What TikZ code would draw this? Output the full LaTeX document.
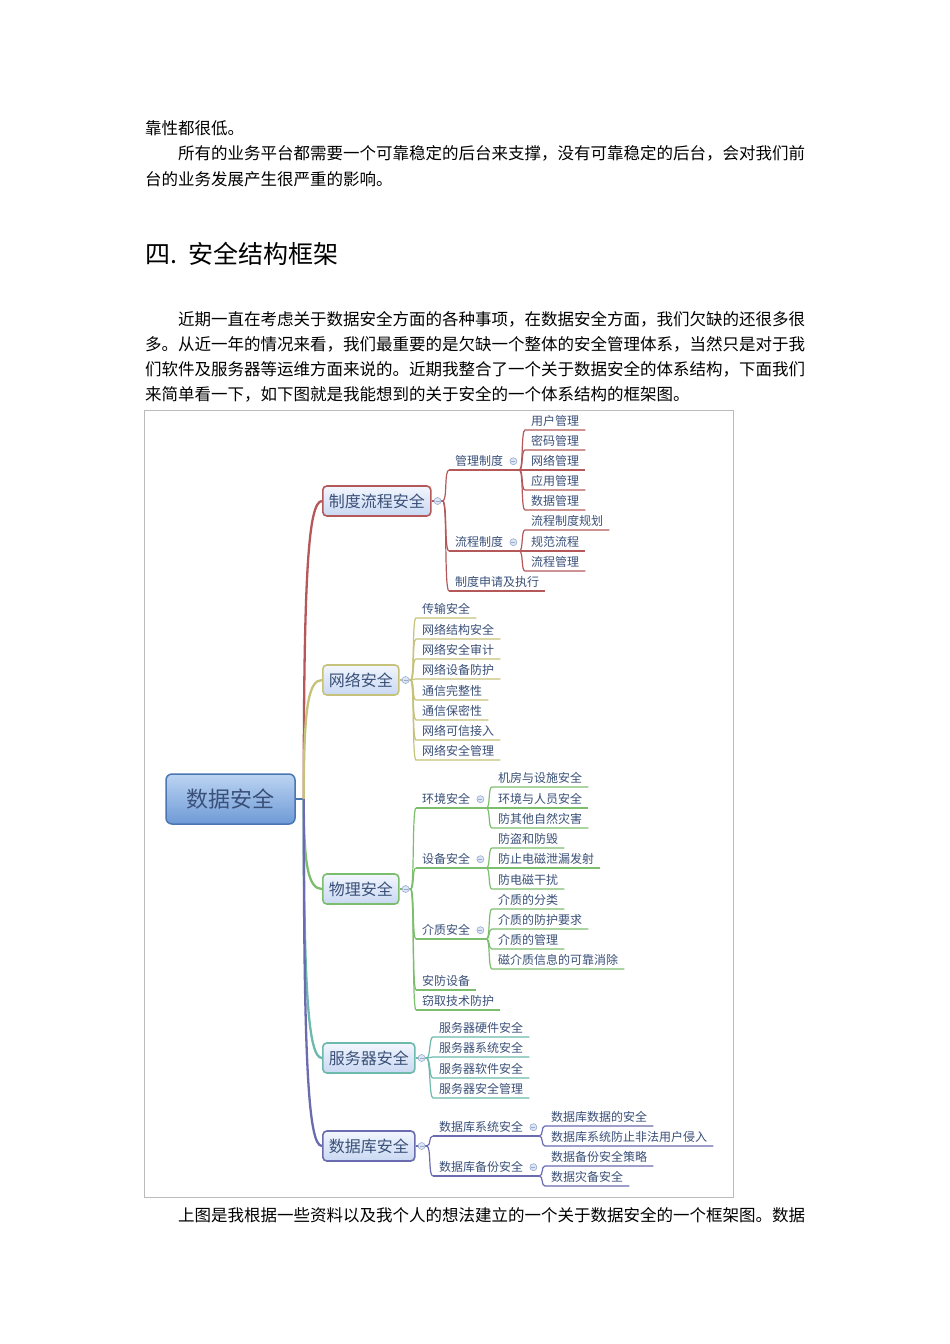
\documentclass[tikz,border=0pt]{standalone}
\usepackage{fontspec}
\setmainfont{Noto Sans CJK SC}
\usetikzlibrary{calc}

\definecolor{brRed}{HTML}{B5585A}
\definecolor{brOlive}{HTML}{C6C27A}
\definecolor{brGreen}{HTML}{7DBE6E}
\definecolor{brTeal}{HTML}{6DB9AC}
\definecolor{brPurple}{HTML}{6B6BB0}
\definecolor{txtBlue}{HTML}{3A5078}
\definecolor{boxTop}{HTML}{F2F6FE}
\definecolor{boxBot}{HTML}{C9D8F2}
\definecolor{rootTop}{HTML}{BCD4F2}
\definecolor{rootBot}{HTML}{6E9AD6}
\definecolor{rootLine}{HTML}{4A76B4}
\definecolor{mkLine}{HTML}{9AAACC}
\definecolor{mkFill}{HTML}{DCE6F6}
\definecolor{frameGray}{HTML}{BBBBBB}

\tikzset{
  bodytext/.style={anchor=west, inner sep=0pt, font=\fontsize{16.5}{20}\selectfont},
  leaf/.style={anchor=south west, inner xsep=6pt, inner ysep=3pt, text=txtBlue, font=\fontsize{12}{14}\selectfont},
  topic/.style={anchor=west, rounded corners=4pt, draw=#1, line width=1.6pt, top color=boxTop, bottom color=boxBot,
    text=txtBlue, inner xsep=6pt, minimum height=30pt, font=\fontsize{16}{18}\selectfont},
  rootbox/.style={rounded corners=6pt, draw=rootLine, line width=1.5pt, top color=rootTop, bottom color=rootBot,
    text=txtBlue, minimum width=129pt, minimum height=50pt, font=\fontsize{22}{24}\selectfont},
  marker/.style={circle, draw=mkLine, fill=mkFill, line width=0.6pt, inner sep=0pt, minimum size=7pt,
    path picture={\draw[mkLine, line width=0.6pt] ([xshift=-2pt]path picture bounding box.center) -- ([xshift=2pt]path picture bounding box.center);}},
  lk/.style={draw=#1, line width=1.2pt},
  trunk/.style={draw=#1, line width=2.3pt},
}

\begin{document}
\begin{tikzpicture}[x=1pt, y=-1pt]
  \useasboundingbox (0,0) rectangle (950,1344);
  \fill[white] (0,0) rectangle (950,1344);

  % text above the figure
  \node[bodytext] (t1) at (145,128) {靠性都很低。};
  \node[bodytext] (t2) at (178,153) {所有的业务平台都需要一个可靠稳定的后台来支撑，没有可靠稳定的后台，会对我们前};
  \node[bodytext] (t3) at (145,179) {台的业务发展产生很严重的影响。};
  \node[anchor=west, inner sep=0pt, font=\fontsize{25}{28}\selectfont] (hd) at (145,254) {四.\hspace{11pt}安全结构框架};
  \node[bodytext] (p1) at (178,319) {近期一直在考虑关于数据安全方面的各种事项，在数据安全方面，我们欠缺的还很多很};
  \node[bodytext] (p2) at (145,344) {多。从近一年的情况来看，我们最重要的是欠缺一个整体的安全管理体系，当然只是对于我};
  \node[bodytext] (p3) at (145,369) {们软件及服务器等运维方面来说的。近期我整合了一个关于数据安全的体系结构，下面我们};
  \node[bodytext] (p4) at (145,394) {来简单看一下，如下图就是我能想到的关于安全的一个体系结构的框架图。};
  \node[bodytext] (p5) at (178,1215) {上图是我根据一些资料以及我个人的想法建立的一个关于数据安全的一个框架图。数据};

  % figure frame
  \draw[frameGray, line width=0.6pt] (144,410) rectangle (733,1197);

  % root and main topics
  \node[rootbox] (rt) at (230.5,799) {数据安全};
  \node[topic=brRed] (zd) at (322,501) {制度流程安全};
  \node[topic=brOlive] (wl) at (322,680) {网络安全};
  \node[topic=brGreen] (wu) at (322,889) {物理安全};
  \node[topic=brTeal] (fw) at (322,1058) {服务器安全};
  \node[topic=brPurple] (sj) at (322,1146) {数据库安全};

  \coordinate (rt-o) at ([xshift=8pt]rt.east);
  \draw[trunk=rootLine] (rt.east) -- (rt-o);
  \draw[trunk=brRed] (rt-o) .. controls +(0,-220) and +(-14,0) .. (zd.west);
  \draw[trunk=brOlive] (rt-o) .. controls +(0,-90) and +(-14,0) .. (wl.west);
  \draw[trunk=brGreen] (rt-o) .. controls +(0,65) and +(-14,0) .. (wu.west);
  \draw[trunk=brTeal] (rt-o) .. controls +(0,190) and +(-14,0) .. (fw.west);
  \draw[trunk=brPurple] (rt-o) .. controls +(0,260) and +(-14,0) .. (sj.west);

  \foreach \b in {zd,wl,wu,fw,sj}
    \coordinate (\b-o) at ([xshift=11pt]\b.east);

  % 制度流程安全
  \node[leaf] (gl) at (449,470) {管理制度};
  \node[leaf] (lc) at (449,551) {流程制度};
  \node[leaf] (sq) at (449,591) {制度申请及执行};
  \foreach \c in {gl,lc,sq}
    \draw[lk=brRed] (zd-o) .. controls +(5,0) and +(-5,0) .. (\c.south west);
  \draw[lk=brRed] (zd.east) -- (zd-o);
  \draw[lk=brRed] (sq.south west) -- (sq.south east);
  \coordinate (gl-o) at ($(gl.south east)+(10,0)$);
  \coordinate (lc-o) at ($(lc.south east)+(10,0)$);
  \draw[lk=brRed] (gl.south west) -- (gl-o);
  \draw[lk=brRed] (lc.south west) -- (lc-o);
  \foreach \t/\y [count=\i] in {用户管理/430,密码管理/450,网络管理/470,应用管理/490,数据管理/510}{
    \node[leaf] (gl\i) at (525,\y) {\t};
    \draw[lk=brRed] (gl-o) .. controls +(4,0) and +(-4,0) .. (gl\i.south west) -- (gl\i.south east);
  }
  \foreach \t/\y [count=\i] in {流程制度规划/530,规范流程/551,流程管理/571}{
    \node[leaf] (lc\i) at (525,\y) {\t};
    \draw[lk=brRed] (lc-o) .. controls +(4,0) and +(-4,0) .. (lc\i.south west) -- (lc\i.south east);
  }

  % 网络安全
  \draw[lk=brOlive] (wl.east) -- (wl-o);
  \foreach \t/\y [count=\i] in {传输安全/618,网络结构安全/639,网络安全审计/659,网络设备防护/679,
      通信完整性/700,通信保密性/720,网络可信接入/740,网络安全管理/760}{
    \node[leaf] (wl\i) at (416,\y) {\t};
    \draw[lk=brOlive] (wl-o) .. controls +(4,0) and +(-4,0) .. (wl\i.south west) -- (wl\i.south east);
  }

  % 物理安全
  \draw[lk=brGreen] (wu.east) -- (wu-o);
  \node[leaf] (hj) at (416,808) {环境安全};
  \node[leaf] (sb) at (416,868) {设备安全};
  \node[leaf] (jz) at (416,939) {介质安全};
  \node[leaf] (af) at (416,990) {安防设备};
  \node[leaf] (qq) at (416,1010) {窃取技术防护};
  \foreach \c in {hj,sb,jz,af,qq}
    \draw[lk=brGreen] (wu-o) .. controls +(4,0) and +(-4,0) .. (\c.south west);
  \draw[lk=brGreen] (af.south west) -- (af.south east);
  \draw[lk=brGreen] (qq.south west) -- (qq.south east);
  \foreach \c in {hj,sb,jz}{
    \coordinate (\c-o) at ($(\c.south east)+(10,0)$);
    \draw[lk=brGreen] (\c.south west) -- (\c-o);
  }
  \foreach \t/\y [count=\i] in {机房与设施安全/787,环境与人员安全/808,防其他自然灾害/828}{
    \node[leaf] (hj\i) at (492,\y) {\t};
    \draw[lk=brGreen] (hj-o) .. controls +(4,0) and +(-4,0) .. (hj\i.south west) -- (hj\i.south east);
  }
  \foreach \t/\y [count=\i] in {防盗和防毁/848,防止电磁泄漏发射/868,防电磁干扰/889}{
    \node[leaf] (sb\i) at (492,\y) {\t};
    \draw[lk=brGreen] (sb-o) .. controls +(4,0) and +(-4,0) .. (sb\i.south west) -- (sb\i.south east);
  }
  \foreach \t/\y [count=\i] in {介质的分类/909,介质的防护要求/929,介质的管理/949,磁介质信息的可靠消除/969}{
    \node[leaf] (jz\i) at (492,\y) {\t};
    \draw[lk=brGreen] (jz-o) .. controls +(4,0) and +(-4,0) .. (jz\i.south west) -- (jz\i.south east);
  }

  % 服务器安全
  \draw[lk=brTeal] (fw.east) -- (fw-o);
  \foreach \t/\y [count=\i] in {服务器硬件安全/1037,服务器系统安全/1057,服务器软件安全/1078,服务器安全管理/1098}{
    \node[leaf] (fw\i) at (433,\y) {\t};
    \draw[lk=brTeal] (fw-o) .. controls +(4,0) and +(-4,0) .. (fw\i.south west) -- (fw\i.south east);
  }

  % 数据库安全
  \draw[lk=brPurple] (sj.east) -- (sj-o);
  \node[leaf] (xt) at (433,1136) {数据库系统安全};
  \node[leaf] (bf) at (433,1176) {数据库备份安全};
  \foreach \c in {xt,bf}{
    \draw[lk=brPurple] (sj-o) .. controls +(5,0) and +(-5,0) .. (\c.south west);
    \coordinate (\c-o) at ($(\c.south east)+(10,0)$);
    \draw[lk=brPurple] (\c.south west) -- (\c-o);
  }
  \foreach \t/\y [count=\i] in {数据库数据的安全/1126,数据库系统防止非法用户侵入/1146}{
    \node[leaf] (xt\i) at (545,\y) {\t};
    \draw[lk=brPurple] (xt-o) .. controls +(4,0) and +(-4,0) .. (xt\i.south west) -- (xt\i.south east);
  }
  \foreach \t/\y [count=\i] in {数据备份安全策略/1166,数据灾备安全/1186}{
    \node[leaf] (bf\i) at (545,\y) {\t};
    \draw[lk=brPurple] (bf-o) .. controls +(4,0) and +(-4,0) .. (bf\i.south west) -- (bf\i.south east);
  }

  % collapse markers
  \foreach \b in {zd,wl,wu,fw,sj}
    \node[marker] at ([xshift=6pt]\b.east) {};
  \foreach \c in {gl,lc,hj,sb,jz,xt,bf}
    \node[marker] at ([xshift=4pt]\c.east) {};
\end{tikzpicture}
\end{document}
